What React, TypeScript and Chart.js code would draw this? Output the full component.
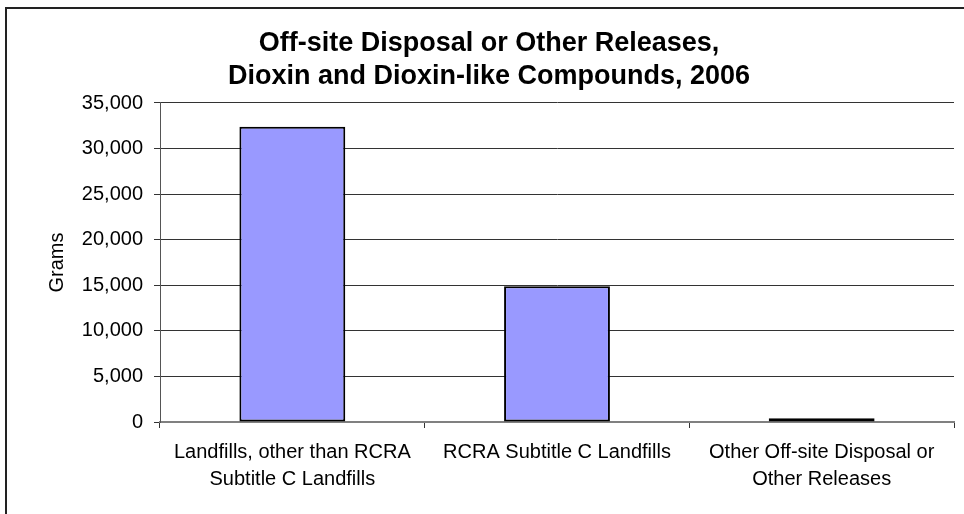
import React, { useEffect, useRef } from "react";
import { Chart, registerables } from "chart.js";

Chart.register(...registerables);

const titleLines = [
  "Off-site Disposal or Other Releases,",
  "Dioxin and Dioxin-like Compounds, 2006",
];
const categories: string[][] = [
  ["Landfills, other than RCRA", "Subtitle C Landfills"],
  ["RCRA Subtitle C Landfills"],
  ["Other Off-site Disposal or", "Other Releases"],
];
const grams = [32400, 14900, 400];
const yTitle = "Grams";
const yMin = 0;
const yMax = 35000;
const yStep = 5000;

const FONT = "'Liberation Sans', Arial, sans-serif";

export default function App() {
  const ref = useRef<HTMLCanvasElement | null>(null);

  useEffect(() => {
    if (!ref.current) return;
    const chart = new Chart(ref.current, {
      type: "bar",
      data: {
        labels: categories,
        datasets: [
          {
            data: grams,
            backgroundColor: "#9999FF",
            borderColor: "#000000",
            borderWidth: 2,
            borderSkipped: false,
            barPercentage: 0.4,
            categoryPercentage: 1,
          },
        ],
      },
      options: {
        responsive: false,
        animation: false,
        layout: { padding: { left: 0, right: 10, top: 0, bottom: 0 } },
        plugins: {
          legend: { display: false },
          tooltip: { enabled: false },
          title: {
            display: true,
            text: titleLines,
            color: "#000",
            font: { family: FONT, size: 27, weight: "bold", lineHeight: 1.222 },
            padding: { top: 27, bottom: 10 },
          },
        },
        scales: {
          x: {
            afterFit: (s: any) => {
              s.height = 92;
            },
            grid: {
              offset: true,
              drawOnChartArea: false,
              drawTicks: true,
              tickLength: 6,
              color: "#333",
            },
            border: { display: true, color: "#808080", width: 2 },
            ticks: {
              color: "#000",
              font: { family: FONT, size: 20, lineHeight: 1.35 },
              padding: 11,
              maxRotation: 0,
              autoSkip: false,
            },
          },
          y: {
            min: yMin,
            max: yMax,
            afterFit: (s: any) => {
              s.width = 136;
            },
            title: {
              display: true,
              text: yTitle,
              color: "#000",
              font: { family: FONT, size: 20, lineHeight: 1.2 },
              padding: { top: 21, bottom: 0 },
            },
            grid: {
              color: "#333",
              lineWidth: 1,
              tickLength: 6,
              drawTicks: true,
            },
            border: { display: true, color: "#555", width: 1 },
            ticks: {
              stepSize: yStep,
              color: "#000",
              font: { family: FONT, size: 20 },
              padding: 11,
              callback: (v: any) => Number(v).toLocaleString("en-US"),
            },
          },
        },
      },
    });
    return () => chart.destroy();
  }, []);

  return (
    <div
      style={{
        position: "fixed",
        left: 0,
        top: 0,
        width: 964,
        height: 514,
        overflow: "hidden",
        background: "#fff",
      }}
    >
      <div
        style={{
          position: "absolute",
          left: 5,
          top: 7,
          width: 1100,
          height: 700,
          border: "2px solid #222",
          boxSizing: "border-box",
        }}
      />
      <canvas
        ref={ref}
        width={940}
        height={514}
        style={{ position: "absolute", left: 24, top: 0 }}
      />
    </div>
  );
}
